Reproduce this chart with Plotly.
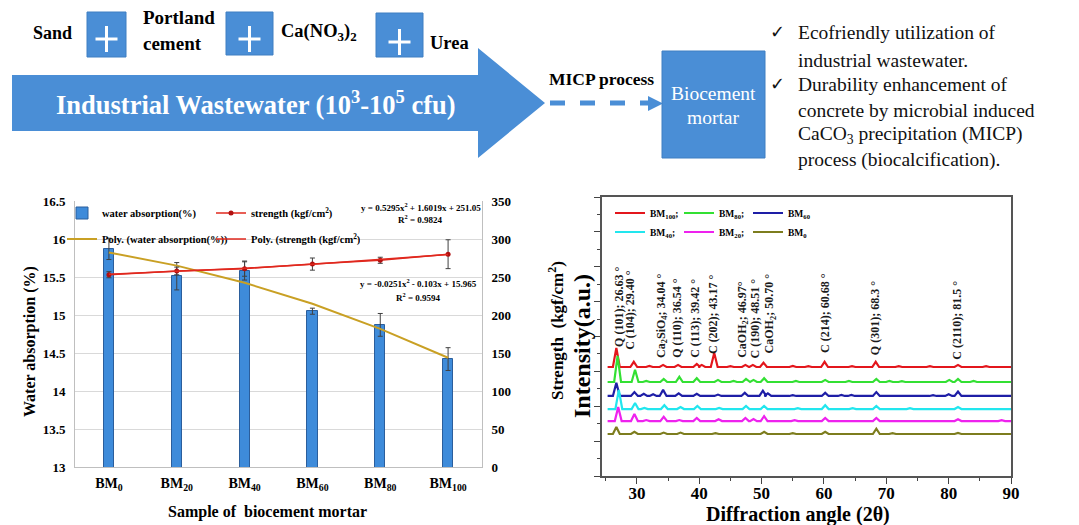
import numpy as np
import plotly.graph_objects as go

W, H = 1079, 525
def px(x): return x / W
def py(y): return 1 - y / H

SERIF = "Liberation Serif, Times New Roman, DejaVu Serif, serif"
BLUE = "#4A8ED6"

# ---------------- Left chart data ----------------
samples = ["BM<sub>0</sub>", "BM<sub>20</sub>", "BM<sub>40</sub>", "BM<sub>60</sub>", "BM<sub>80</sub>", "BM<sub>100</sub>"]
sample_pos = [1, 2, 3, 4, 5, 6]
water_abs = [15.87, 15.51, 15.58, 15.05, 14.87, 14.42]
water_err = [0.14, 0.18, 0.12, 0.04, 0.15, 0.15]
strength = [253, 258, 261, 267, 272, 280]
strength_err = [4, 5, 10, 8, 4, 19]
water_ticks = [13, 13.5, 14, 14.5, 15, 15.5, 16, 16.5]
strength_ticks = [0, 50, 100, 150, 200, 250, 300, 350]

# ---------------- XRD data ----------------
xrd_names = ["BM<sub>100</sub>;", "BM<sub>80</sub>;", "BM<sub>60</sub>",
             "BM<sub>40</sub>;", "BM<sub>20</sub>;", "BM<sub>0</sub>"]
xrd_colors = ["#E3161C", "#33E033", "#1E1EA6", "#22E6EE", "#EE22EE", "#7D7D1E"]
xrd_baseline = [6.25, 5.39, 4.59, 3.84, 3.15, 2.41]
bm100_2theta = [26.7, 29.5, 32.0, 34.2, 36.6, 39.6, 40.4, 42.4, 45.0, 47.4, 48.6, 50.3, 55.0, 57.5, 60.1, 64.5, 68.3, 72.0, 77.0, 81.5, 86.0]
bm100_int = [1.10, 0.30, 0.06, 0.12, 0.12, 0.18, 0.12, 0.80, 0.05, 0.12, 0.12, 0.25, 0.06, 0.05, 0.30, 0.05, 0.30, 0.05, 0.05, 0.12, 0.05]
bm80_2theta = [26.9, 29.7, 31.5, 34.3, 36.8, 39.6, 43.0, 45.5, 47.5, 48.7, 50.4, 55.5, 60.2, 64.0, 68.4, 70.5, 72.5, 80.1, 81.5, 84.0]
bm80_int = [1.50, 0.70, 0.06, 0.18, 0.30, 0.22, 0.12, 0.06, 0.18, 0.12, 0.22, 0.06, 0.12, 0.06, 0.18, 0.06, 0.05, 0.12, 0.18, 0.06]
bm60_2theta = [26.7, 29.6, 31.1, 32.6, 34.2, 36.7, 39.6, 43.0, 47.3, 50.2, 51.0, 55.0, 60.2, 62.8, 64.4, 68.4, 77.5, 80.0, 81.5]
bm60_int = [0.75, 0.22, 0.12, 0.10, 0.35, 0.15, 0.12, 0.08, 0.18, 0.30, 0.15, 0.05, 0.18, 0.06, 0.06, 0.22, 0.05, 0.10, 0.25]
bm40_2theta = [27.1, 29.7, 31.2, 34.4, 37.0, 39.7, 43.2, 47.5, 50.4, 55.8, 60.2, 64.6, 68.4, 73.8, 81.5]
bm40_int = [1.10, 0.35, 0.06, 0.22, 0.12, 0.18, 0.06, 0.18, 0.18, 0.05, 0.22, 0.05, 0.18, 0.05, 0.12]
bm20_2theta = [27.0, 29.6, 31.5, 34.3, 36.8, 39.6, 43.1, 47.4, 48.7, 50.4, 55.3, 60.2, 68.4, 81.5, 88.5]
bm20_int = [0.80, 0.40, 0.06, 0.25, 0.06, 0.18, 0.10, 0.18, 0.12, 0.28, 0.05, 0.18, 0.18, 0.10, 0.05]
bm0_2theta = [26.7, 29.6, 34.3, 37.0, 42.6, 50.4, 55.0, 60.2, 68.4, 71.0, 81.5]
bm0_int = [0.40, 0.12, 0.08, 0.08, 0.05, 0.12, 0.05, 0.12, 0.30, 0.05, 0.06]
xrd_peaks = [(bm100_2theta, bm100_int), (bm80_2theta, bm80_int), (bm60_2theta, bm60_int),
             (bm40_2theta, bm40_int), (bm20_2theta, bm20_int), (bm0_2theta, bm0_int)]
xrd_start, xrd_end = 25.3, 90.0

peak_labels = ["Q (101); 26.63 °", "C (104); 29.40 °", "Ca<sub>2</sub>SiO<sub>4</sub>; 34.04 °",
               "Q (110); 36.54 °", "C (113); 39.42 °", "C (202); 43.17 °",
               "CaOH<sub>2</sub>; 46.97°", "C (190); 48.51 °", "CaOH<sub>2</sub>; 50.70 °",
               "C (214); 60.68 °", "Q (301); 68.3 °", "C (2110); 81.5 °"]
peak_label_x = [27.0, 29.0, 34.0, 36.4, 39.2, 42.1, 46.9, 49.0, 51.3, 60.2, 68.3, 81.4]
peak_label_base = [7.3, 7.1, 6.65, 6.65, 6.65, 6.9, 6.65, 6.65, 6.9, 6.95, 6.8, 6.55]

fig = go.Figure()

# ---- left chart traces ----
fig.add_trace(go.Bar(
    x=sample_pos, y=water_abs, width=0.15, name="water absorption(%)",
    marker=dict(color="#3E8BDA", line=dict(color="#2B5E9C", width=1)),
    error_y=dict(type="data", array=water_err, color="#404040", thickness=1, width=2.5),
    xaxis="x", yaxis="y", legend="legend"))

wa_fit = np.polyval(np.polyfit(sample_pos, water_abs, 2), sample_pos)
st_fit = np.polyval(np.polyfit(sample_pos, strength, 2), sample_pos)

fig.add_trace(go.Scatter(
    x=sample_pos, y=strength, mode="lines+markers", name="strength (kgf/cm<sup>2</sup>)",
    line=dict(color="#E0281E", width=1.5), marker=dict(color="#B01010", size=5),
    error_y=dict(type="data", array=strength_err, color="#404040", thickness=1, width=2.5),
    xaxis="x", yaxis="y2", legend="legend"))
fig.add_trace(go.Scatter(
    x=sample_pos, y=wa_fit, mode="lines", name="Poly. (water absorption(%))",
    line=dict(color="#C9A024", width=2), xaxis="x", yaxis="y", legend="legend2"))
fig.add_trace(go.Scatter(
    x=sample_pos, y=st_fit, mode="lines", name="Poly. (strength (kgf/cm<sup>2</sup>))",
    line=dict(color="#E0281E", width=1.5), xaxis="x", yaxis="y2", legend="legend2"))

# ---- XRD traces ----
for i, (name, col, base, (pos, inten)) in enumerate(zip(xrd_names, xrd_colors, xrd_baseline, xrd_peaks)):
    xs, ys = [xrd_start], [base]
    for p, h in sorted(zip(pos, inten)):
        xs += [p - 0.55, p, p + 0.55]
        ys += [base, base + h, base]
    xs.append(xrd_end); ys.append(base)
    fig.add_trace(go.Scatter(
        x=xs, y=ys, mode="lines", name=name, line=dict(color=col, width=2.2),
        xaxis="x2", yaxis="y3", legend="legend3" if i < 3 else "legend4"))

ann = []
def text(x, y, t, size, color="black", xanchor="center", yanchor="middle", angle=0, **kw):
    ann.append(dict(x=px(x), y=py(y), xref="paper", yref="paper", text=t, showarrow=False,
                    xanchor=xanchor, yanchor=yanchor, textangle=angle,
                    font=dict(family=SERIF, size=size, color=color), **kw))

# ---- header ----
shapes = []
def path(points, **kw):
    d = "M " + " L ".join(f"{px(a):.5f},{py(b):.5f}" for a, b in points) + " Z"
    shapes.append(dict(type="path", path=d, xref="paper", yref="paper", **kw))

path([(12, 75), (478, 75), (478, 48), (545, 103), (478, 158), (478, 131), (12, 131)],
     fillcolor=BLUE, line=dict(width=0))
for (x0, y0, x1, y1, cy) in [(87, 12, 126, 57, 39), (226, 12, 273, 55, 39), (376, 13, 423, 57, 42)]:
    shapes.append(dict(type="rect", xref="paper", yref="paper", x0=px(x0), x1=px(x1), y0=py(y1), y1=py(y0),
                       fillcolor=BLUE, line=dict(color="#3F7EC2", width=1)))
    cx = (x0 + x1) / 2
    shapes.append(dict(type="line", xref="paper", yref="paper", x0=px(cx - 11), x1=px(cx + 11), y0=py(cy), y1=py(cy),
                       line=dict(color="white", width=3)))
    shapes.append(dict(type="line", xref="paper", yref="paper", x0=px(cx), x1=px(cx), y0=py(cy - 13), y1=py(cy + 13),
                       line=dict(color="white", width=3)))
# dashed arrow
shapes.append(dict(type="line", xref="paper", yref="paper", x0=px(550), x1=px(648), y0=py(103), y1=py(103),
                   line=dict(color=BLUE, width=5, dash="dash")))
path([(648, 96), (663, 103.5), (648, 111)], fillcolor=BLUE, line=dict(width=0))
# biocement box
shapes.append(dict(type="rect", xref="paper", yref="paper", x0=px(662), x1=px(765), y0=py(158), y1=py(51),
                   fillcolor=BLUE, line=dict(color="#3F7EC2", width=1)))

text(52, 33, "<b>Sand</b>", 18)
text(141, 17, "<b>Portland</b>", 19, xanchor="left")
text(141, 44, "<b>cement</b>", 19, xanchor="left")
text(279, 33, "<b>Ca(NO<sub>3</sub>)<sub>2</sub></b>", 18.5, xanchor="left")
text(428, 43, "<b>Urea</b>", 18.5, xanchor="left")
text(256, 103, "<b>Industrial Wastewater (10<sup>3</sup>-10<sup>5</sup> cfu)</b>", 26.5, color="white")
text(601, 79, "<b>MICP process</b>", 17.5)
text(713, 93, "Biocement", 19.5, color="white")
text(713, 117, "mortar", 19.5, color="white")
bullets = ["Ecofriendly utilization of", "industrial wastewater.", "Durability enhancement of",
           "concrete by microbial induced", "CaCO<sub>3</sub> precipitation (MICP)", "process (biocalcification)."]
for k, (line_y, t) in enumerate(zip([33, 60, 85, 110, 135, 160], bullets)):
    text(796, line_y, t, 19.5, color="#111", xanchor="left")
    if k in (0, 2):
        text(777, line_y - 1, "✓", 18, color="#111")

# ---- left chart annotations ----
text(30, 342, "<b>Water absorption (%)</b>", 16, angle=-90)
text(267, 512, "<b>Sample of  biocement mortar</b>", 16)
text(421, 207, "<b>y = 0.5295x<sup>2</sup> + 1.6019x + 251.05</b>", 9)
text(420, 219, "<b>R<sup>2</sup> = 0.9824</b>", 9)
text(418, 283, "<b>y = -0.0251x<sup>2</sup> - 0.103x + 15.965</b>", 9)
text(418, 297, "<b>R<sup>2</sup> = 0.9594</b>", 9)

# ---- right chart annotations ----
text(556, 331, "<b>Strength  (kgf/cm<sup>2</sup>)</b>", 17, angle=-90)
text(582, 346, "<b>Intensity(a.u.)</b>", 24, angle=-90)
text(798, 514, "<b>Diffraction angle (2θ)</b>", 20)
for lab, lx, lb in zip(peak_labels, peak_label_x, peak_label_base):
    ann.append(dict(x=lx, y=lb, xref="x2", yref="y3", text="<b>" + lab + "</b>", showarrow=False,
                    textangle=-90, xanchor="center", yanchor="bottom",
                    font=dict(family=SERIF, size=12, color="#1a1a1a")))

axis_font = dict(family=SERIF, color="black", weight="bold")
fig.update_layout(
    template="none", width=W, height=H, autosize=False,
    margin=dict(l=0, r=0, t=0, b=0), paper_bgcolor="white", plot_bgcolor="white",
    font=dict(family=SERIF, color="black"),
    shapes=shapes, annotations=ann, bargap=0,
    xaxis=dict(domain=[px(75), px(482)], range=[0.5, 6.5], tickvals=sample_pos, ticktext=samples,
               tickfont=dict(size=14, **axis_font), showline=True, linecolor="#BFBFBF", ticks="",
               ticklabelstandoff=3,
               showgrid=False, zeroline=False, anchor="y", automargin=False),
    yaxis=dict(domain=[py(467), py(201)], range=[13, 16.5], tickvals=water_ticks,
               tickfont=dict(size=13, **axis_font), showgrid=True, gridcolor="#D9D9D9", gridwidth=1,
               ticklabelstandoff=6,
               showline=True, linecolor="#BFBFBF", ticks="", zeroline=False, anchor="x", automargin=False),
    yaxis2=dict(overlaying="y", side="right", range=[0, 350], tickvals=strength_ticks,
                tickfont=dict(size=13, **axis_font), showgrid=False, showline=True, linecolor="#BFBFBF",
                ticklabelstandoff=6,
                ticks="", zeroline=False, anchor="x", automargin=False),
    xaxis2=dict(domain=[px(602), px(1011)], range=[24.4, 90], tick0=0, dtick=10, ticks="outside", ticklen=6,
                tickcolor="#444", minor=dict(dtick=5, ticks="outside", ticklen=3, tickcolor="#444"),
                tickfont=dict(size=17, **axis_font), showline=True, mirror=True, linecolor="#555",
                ticklabelstandoff=-5,
                linewidth=1.5, showgrid=False, zeroline=False, anchor="y3", automargin=False),
    yaxis3=dict(domain=[py(476), py(197)], range=[0, 16], tick0=0, dtick=2, ticks="outside", ticklen=6,
                tickcolor="#444", minor=dict(dtick=1, ticks="outside", ticklen=3, tickcolor="#444"),
                showticklabels=False, showline=True, mirror=True, linecolor="#555", linewidth=1.5,
                showgrid=False, zeroline=False, anchor="x2", automargin=False),
    legend=dict(x=px(62), y=py(213), xanchor="left", yanchor="middle", orientation="h",
                entrywidth=104, bgcolor="rgba(0,0,0,0)", font=dict(size=10.5, **axis_font)),
    legend2=dict(x=px(62), y=py(239), xanchor="left", yanchor="middle", orientation="h",
                 entrywidth=104, bgcolor="rgba(0,0,0,0)", font=dict(size=10.5, **axis_font)),
    legend3=dict(x=px(610), y=py(213), xanchor="left", yanchor="middle", orientation="h",
                 entrywidth=24, bgcolor="rgba(0,0,0,0)", font=dict(size=9.5, **axis_font)),
    legend4=dict(x=px(610), y=py(232), xanchor="left", yanchor="middle", orientation="h",
                 entrywidth=24, bgcolor="rgba(0,0,0,0)", font=dict(size=9.5, **axis_font)),
)

fig.write_html("out.html", config={"displayModeBar": False},
               post_script="document.body.style.margin='0px';document.body.style.overflow='hidden';")
